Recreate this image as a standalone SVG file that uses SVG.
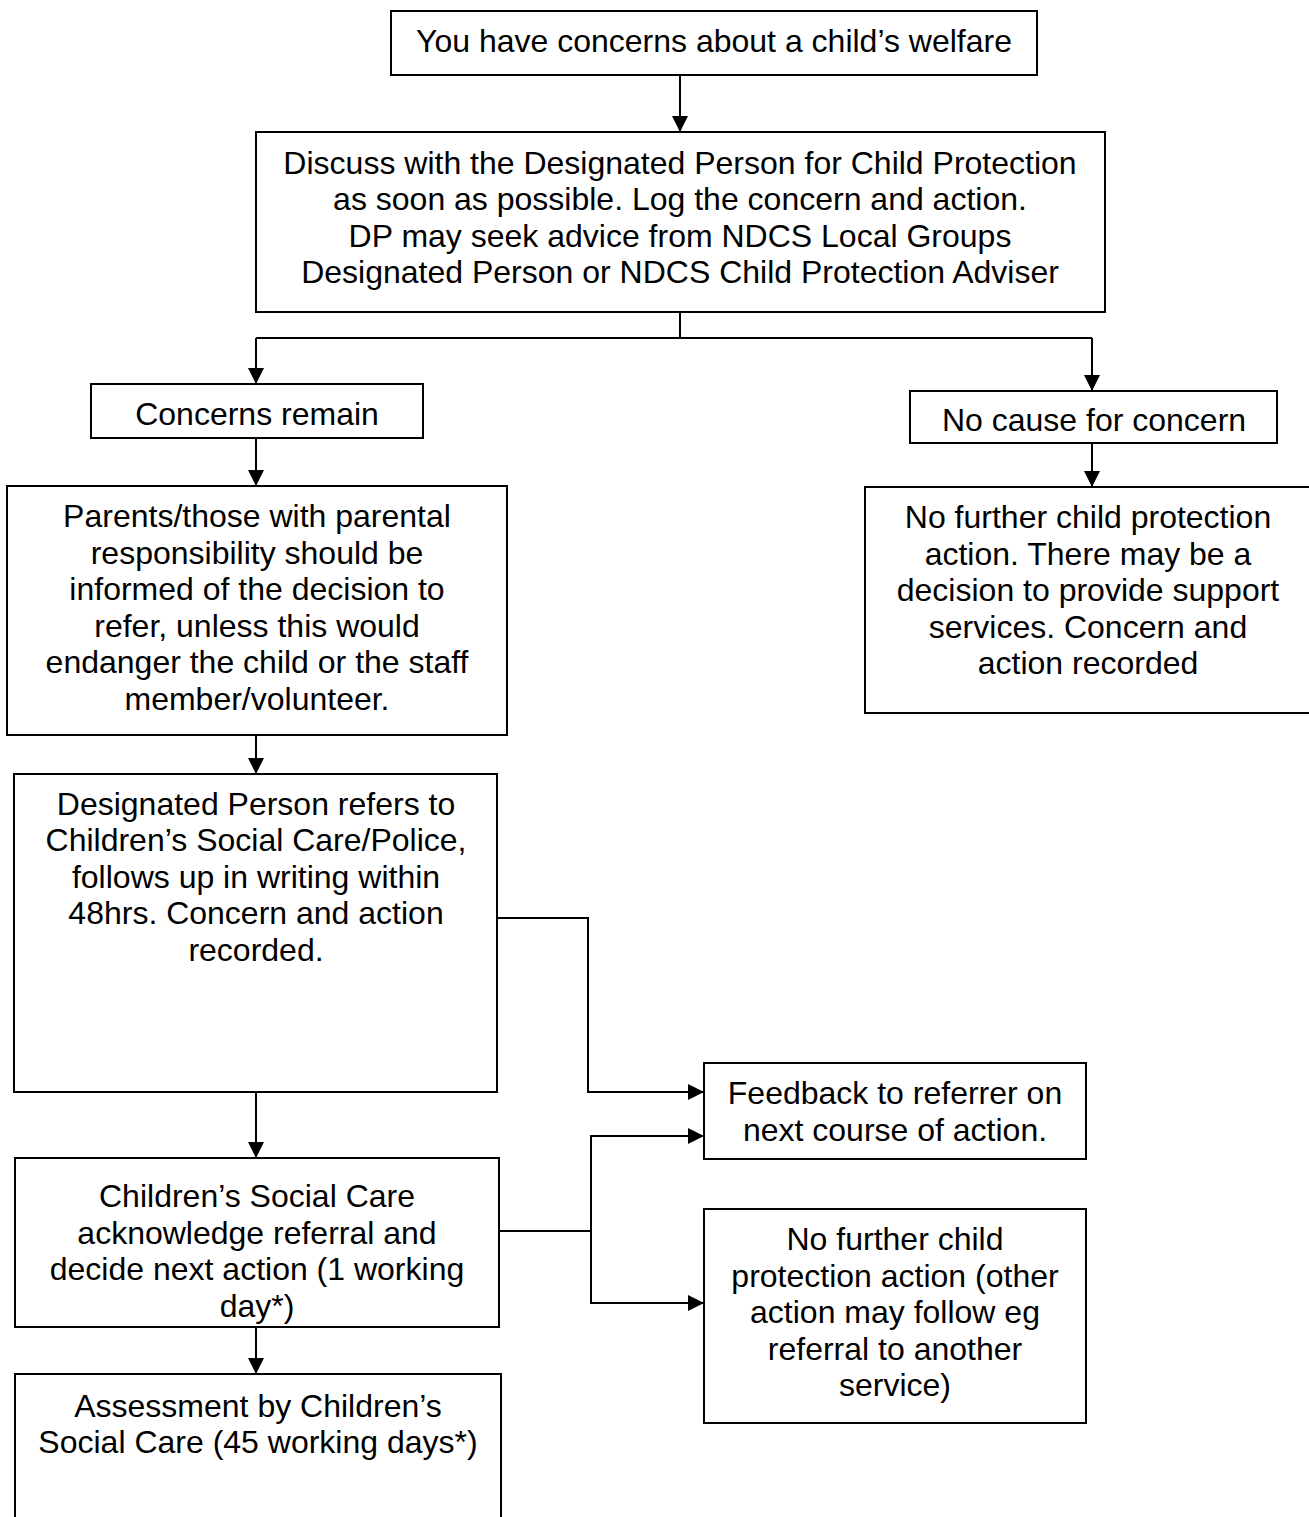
<svg xmlns="http://www.w3.org/2000/svg" width="1309" height="1517" viewBox="0 0 1309 1517">
<style>
  .box { fill: #ffffff; stroke: #000000; stroke-width: 2; }
  .conn { fill: none; stroke: #000000; stroke-width: 2; }
  .arr { marker-end: url(#ah); }
  text { font-family: "Liberation Sans", Arial, sans-serif; font-size: 32px; fill: #000000; text-anchor: middle; }
</style>
<defs>
  <marker id="ah" markerUnits="userSpaceOnUse" markerWidth="17" markerHeight="17" refX="16" refY="8" orient="auto">
    <path d="M0,0 L16,8 L0,16 z" fill="#000000"/>
  </marker>
</defs>
<rect width="1309" height="1517" fill="#ffffff"/>

<g id="connectors">
  <path class="conn arr" d="M680,75 L680,132"/>
  <path class="conn" d="M680,312 L680,338 M256,338 L1092,338"/>
  <path class="conn arr" d="M256,338 L256,384"/>
  <path class="conn arr" d="M1092,338 L1092,391"/>
  <path class="conn arr" d="M256,438 L256,486"/>
  <path class="conn arr" d="M1092,443 L1092,487"/>
  <path class="conn arr" d="M256,735 L256,774"/>
  <path class="conn arr" d="M497,918 L588,918 L588,1092 L704,1092"/>
  <path class="conn arr" d="M256,1092 L256,1158"/>
  <path class="conn arr" d="M499,1231 L591,1231 L591,1136 L704,1136"/>
  <path class="conn arr" d="M591,1231 L591,1303 L704,1303"/>
  <path class="conn arr" d="M256,1327 L256,1374"/>
</g>

<g id="n-start">
  <rect class="box" x="391" y="11" width="646" height="64"/>
  <text x="714" y="52">You have concerns about a child’s welfare</text>
</g>

<g id="n-discuss">
  <rect class="box" x="256" y="132" width="849" height="180"/>
  <text x="680"><tspan x="680" y="173.5">Discuss with the Designated Person for Child Protection</tspan><tspan x="680" y="210">as soon as possible. Log the concern and action.</tspan><tspan x="680" y="246.5">DP may seek advice from NDCS Local Groups</tspan><tspan x="680" y="283">Designated Person or NDCS Child Protection Adviser</tspan></text>
</g>

<g id="n-concerns">
  <rect class="box" x="91" y="384" width="332" height="54"/>
  <text x="257" y="425">Concerns remain</text>
</g>

<g id="n-nocause">
  <rect class="box" x="910" y="391" width="367" height="52"/>
  <text x="1094" y="431">No cause for concern</text>
</g>

<g id="n-parents">
  <rect class="box" x="7" y="486" width="500" height="249"/>
  <text x="257"><tspan x="257" y="527">Parents/those with parental</tspan><tspan x="257" y="563.5">responsibility should be</tspan><tspan x="257" y="600">informed of the decision to</tspan><tspan x="257" y="636.5">refer, unless this would</tspan><tspan x="257" y="673">endanger the child or the staff</tspan><tspan x="257" y="709.5">member/volunteer.</tspan></text>
</g>

<g id="n-nofurther1">
  <rect class="box" x="865" y="487" width="446" height="226"/>
  <text x="1088"><tspan x="1088" y="528">No further child protection</tspan><tspan x="1088" y="564.5">action. There may be a</tspan><tspan x="1088" y="601">decision to provide support</tspan><tspan x="1088" y="637.5">services. Concern and</tspan><tspan x="1088" y="674">action recorded</tspan></text>
</g>

<g id="n-refer">
  <rect class="box" x="14" y="774" width="483" height="318"/>
  <text x="256"><tspan x="256" y="814.5">Designated Person refers to</tspan><tspan x="256" y="851">Children’s Social Care/Police,</tspan><tspan x="256" y="887.5">follows up in writing within</tspan><tspan x="256" y="924">48hrs. Concern and action</tspan><tspan x="256" y="960.5">recorded.</tspan></text>
</g>

<g id="n-feedback">
  <rect class="box" x="704" y="1063" width="382" height="96"/>
  <text x="895"><tspan x="895" y="1104">Feedback to referrer on</tspan><tspan x="895" y="1140.5">next course of action.</tspan></text>
</g>

<g id="n-csc">
  <rect class="box" x="15" y="1158" width="484" height="169"/>
  <text x="257"><tspan x="257" y="1207">Children’s Social Care</tspan><tspan x="257" y="1243.5">acknowledge referral and</tspan><tspan x="257" y="1280">decide next action (1 working</tspan><tspan x="257" y="1316.5">day*)</tspan></text>
</g>

<g id="n-nofurther2">
  <rect class="box" x="704" y="1209" width="382" height="214"/>
  <text x="895"><tspan x="895" y="1250">No further child</tspan><tspan x="895" y="1286.5">protection action (other</tspan><tspan x="895" y="1323">action may follow eg</tspan><tspan x="895" y="1359.5">referral to another</tspan><tspan x="895" y="1396">service)</tspan></text>
</g>

<g id="n-assessment">
  <rect class="box" x="15" y="1374" width="486" height="200"/>
  <text x="258"><tspan x="258" y="1417">Assessment by Children’s</tspan><tspan x="258" y="1453">Social Care (45 working days*)</tspan></text>
</g>
</svg>
